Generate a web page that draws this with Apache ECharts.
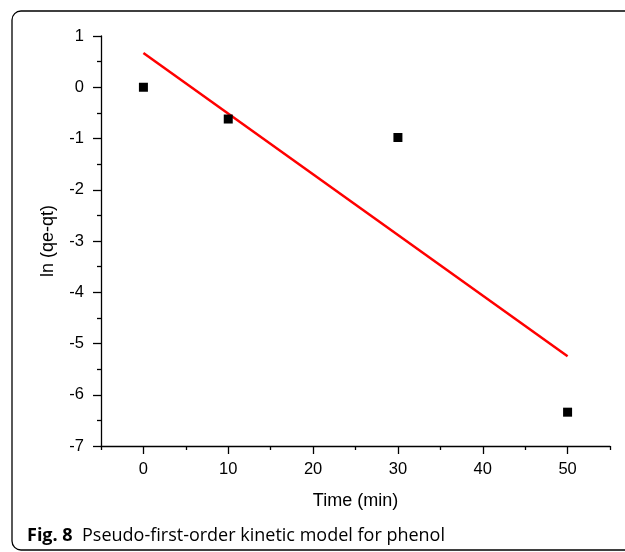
<!DOCTYPE html>
<html><head><meta charset="utf-8">
<script src="https://cdn.jsdelivr.net/npm/echarts@6/dist/echarts.min.js"></script>
<style>html,body{margin:0;padding:0;background:#fff}#c{width:625px;height:552px}</style>
</head><body><div id="c"></div>
<script>
const timeMin = [0, 10, 30, 50];
const lnQ = [0, -0.62, -0.98, -6.34];
const fitX = [0, 50];
const fitY = [0.67, -5.25];
const xMajorTicks = [0, 10, 20, 30, 40, 50];
const xMinorTicks = [-5, 5, 15, 25, 35, 45, 55];

const chart = echarts.init(document.getElementById('c'));
const font = "'Liberation Sans', Arial, sans-serif";
chart.setOption({
  animation: false,
  backgroundColor: '#fff',
  grid: {left: 101, top: 36, right: 15, bottom: 106, containLabel: false},
  xAxis: [{
    type: 'value', min: -5, max: 55,
    name: 'Time (min)', nameLocation: 'middle', nameGap: 46,
    nameTextStyle: {fontFamily: font, fontSize: 18, color: '#000'},
    axisLine: {onZero: false, lineStyle: {color: '#000', width: 1.3}},
    axisTick: {show: true, length: 8, lineStyle: {color: '#000', width: 1.3}, customValues: xMajorTicks},
    axisLabel: {fontFamily: font, fontSize: 16.5, color: '#000', margin: 15, customValues: xMajorTicks},
    splitLine: {show: false}
  }, {
    type: 'value', min: -5, max: 55, position: 'bottom',
    axisLine: {show: false, onZero: false},
    axisTick: {show: true, length: 4, lineStyle: {color: '#000', width: 1.3}, customValues: xMinorTicks},
    axisLabel: {show: false},
    splitLine: {show: false}
  }],
  yAxis: {
    type: 'value', min: -7, max: 1, interval: 1,
    name: 'ln (qe-qt)', nameLocation: 'middle', nameGap: 44,
    nameTextStyle: {fontFamily: font, fontSize: 18, color: '#000'},
    axisLine: {show: true, onZero: false, lineStyle: {color: '#000', width: 1.3}},
    axisTick: {show: true, length: 8, lineStyle: {color: '#000', width: 1.3}},
    minorTick: {show: true, splitNumber: 2, length: 4, lineStyle: {color: '#000', width: 1.3}},
    axisLabel: {fontFamily: font, fontSize: 16.5, color: '#000', margin: 17},
    splitLine: {show: false}
  },
  series: [{
    type: 'line', data: fitX.map((x, i) => [x, fitY[i]]),
    symbol: 'none', lineStyle: {color: '#ff0000', width: 2.5}, z: 2
  }, {
    type: 'scatter', data: timeMin.map((x, i) => [x, lnQ[i]]),
    symbol: 'rect', symbolSize: 9, itemStyle: {color: '#000', opacity: 1}, z: 3
  }],
  graphic: [{
    type: 'rect', shape: {x: 12, y: 11, width: 700, height: 539, r: [9, 0, 0, 9]},
    style: {fill: 'none', stroke: '#000', lineWidth: 1.3}, silent: true
  }, {
    type: 'text', x: 27, y: 536,
    style: {
      verticalAlign: 'middle',
      rich: {b: {fontFamily: "'Open Sans', sans-serif", fontWeight: 'bold', fontSize: 18, fill: '#000'},
             n: {fontFamily: "'Open Sans', sans-serif", fontSize: 18, fill: '#000'}},
      text: '{b|Fig. 8}{n|  Pseudo-first-order kinetic model for phenol}'
    }
  }]
});
</script></body></html>
